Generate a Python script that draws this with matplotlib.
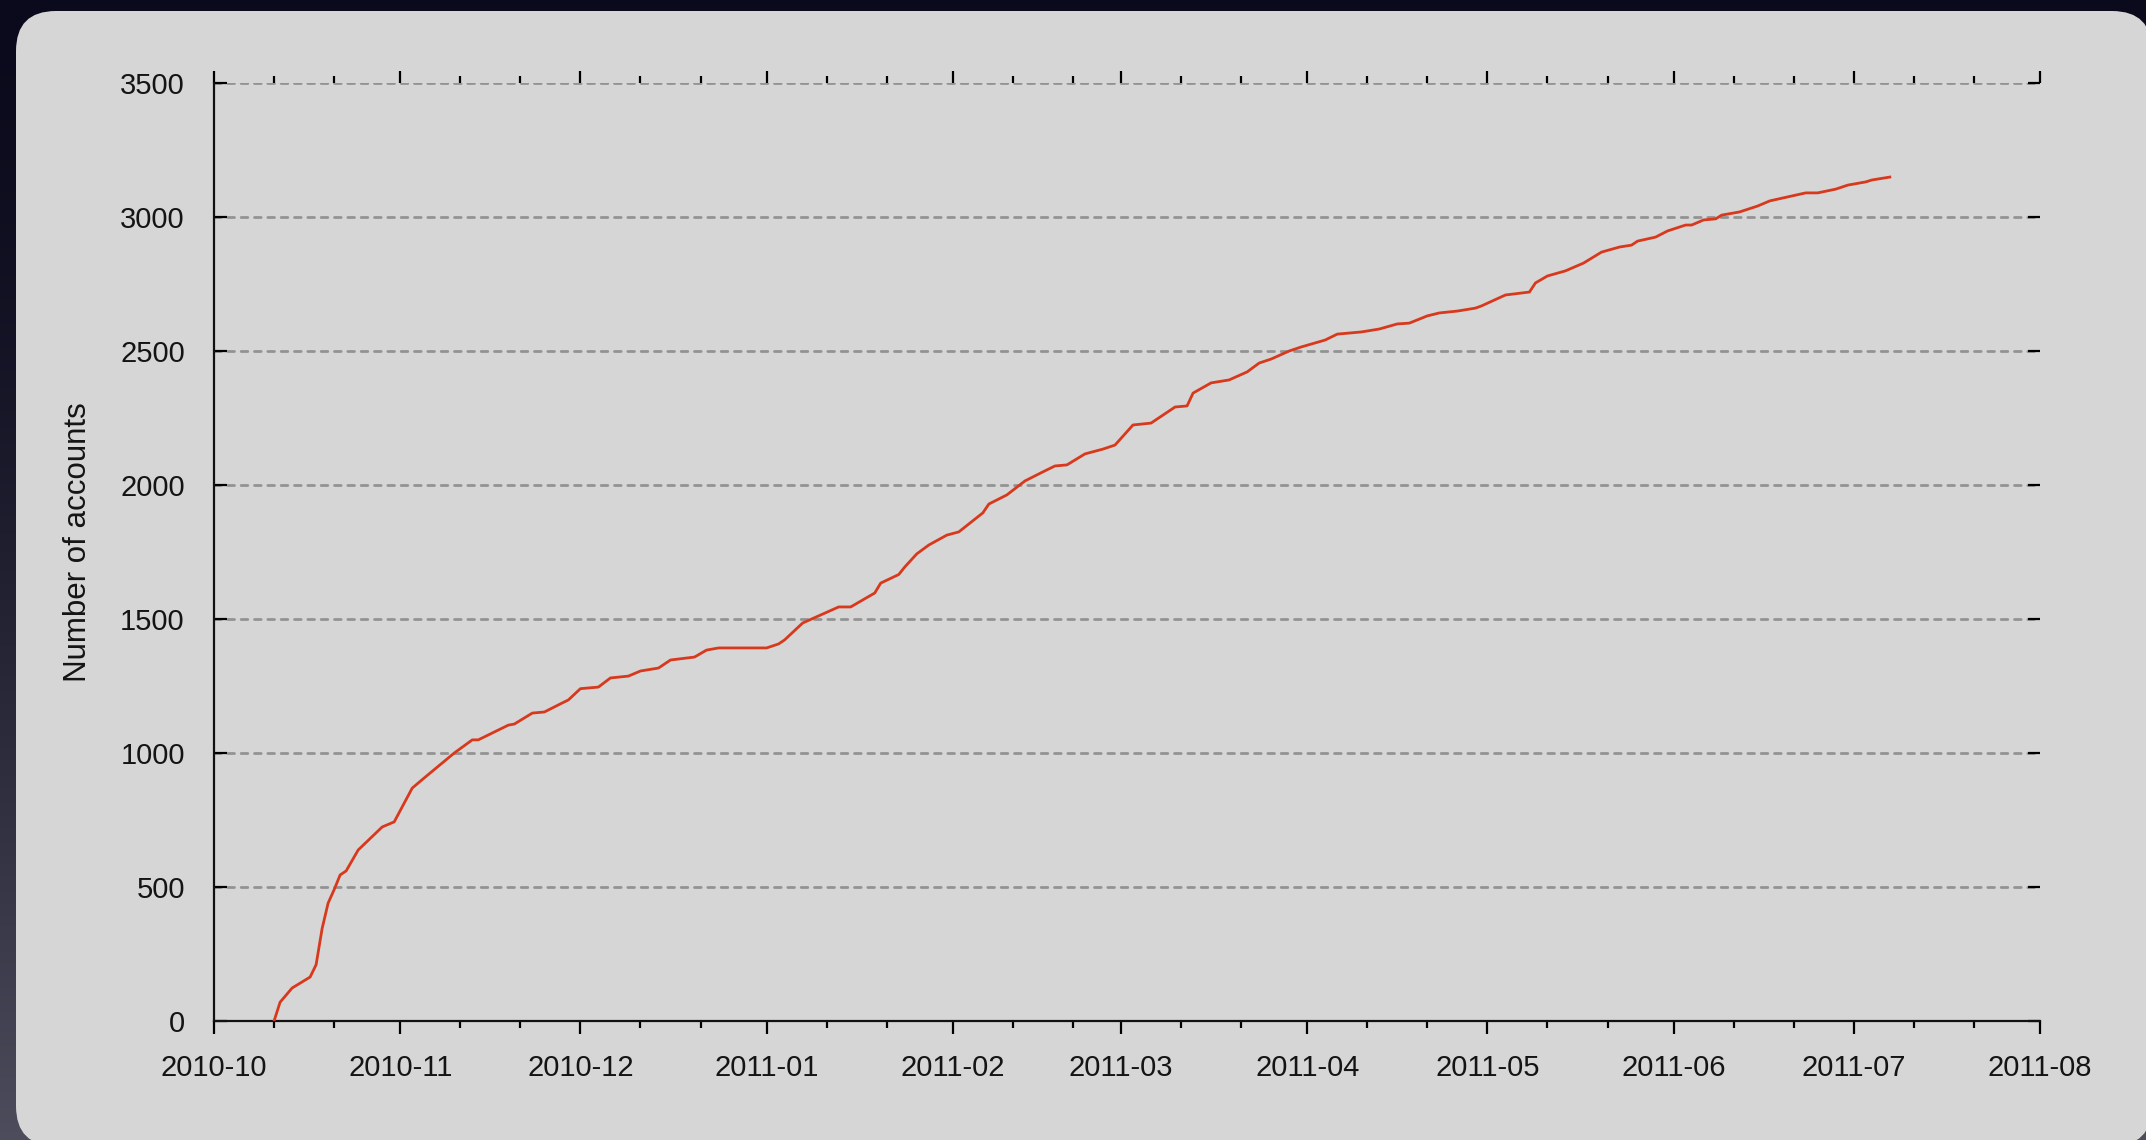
import matplotlib.pyplot as plt
import matplotlib.dates as mdates
from matplotlib.ticker import MultipleLocator
from matplotlib.patches import FancyBboxPatch
import numpy as np
import pandas as pd

plt.rcParams['font.family'] = ['Liberation Sans', 'DejaVu Sans']

# cumulative number of accounts
dates = [
    "2010-10-11", "2010-10-12", "2010-10-14", "2010-10-17", "2010-10-18",
    "2010-10-19", "2010-10-20", "2010-10-21", "2010-10-22", "2010-10-23",
    "2010-10-25", "2010-10-29", "2010-10-31", "2010-11-03", "2010-11-05",
    "2010-11-10", "2010-11-13", "2010-11-14", "2010-11-19", "2010-11-20",
    "2010-11-23", "2010-11-25", "2010-11-28", "2010-11-29", "2010-12-01",
    "2010-12-04", "2010-12-06", "2010-12-09", "2010-12-11", "2010-12-14",
    "2010-12-16", "2010-12-20", "2010-12-22", "2010-12-24", "2011-01-01",
    "2011-01-03", "2011-01-04", "2011-01-07", "2011-01-10", "2011-01-13",
    "2011-01-15", "2011-01-19", "2011-01-20", "2011-01-23", "2011-01-24",
    "2011-01-26", "2011-01-28", "2011-01-31", "2011-02-02", "2011-02-06",
    "2011-02-07", "2011-02-10", "2011-02-13", "2011-02-16", "2011-02-18",
    "2011-02-20", "2011-02-23", "2011-02-26", "2011-02-28", "2011-03-03",
    "2011-03-06", "2011-03-08", "2011-03-10", "2011-03-12", "2011-03-13",
    "2011-03-16", "2011-03-19", "2011-03-22", "2011-03-24", "2011-03-26",
    "2011-03-29", "2011-03-31", "2011-04-04", "2011-04-06", "2011-04-10",
    "2011-04-13", "2011-04-16", "2011-04-18", "2011-04-21", "2011-04-23",
    "2011-04-26", "2011-04-29", "2011-04-30", "2011-05-04", "2011-05-08",
    "2011-05-09", "2011-05-11", "2011-05-14", "2011-05-17", "2011-05-20",
    "2011-05-23", "2011-05-25", "2011-05-26", "2011-05-29", "2011-05-31",
    "2011-06-03", "2011-06-04", "2011-06-06", "2011-06-08", "2011-06-09",
    "2011-06-12", "2011-06-15", "2011-06-17", "2011-06-20", "2011-06-23",
    "2011-06-25", "2011-06-28", "2011-06-30", "2011-07-03", "2011-07-04",
    "2011-07-07",
]
accounts = [
    0, 70, 123, 164, 210,
    345, 440, 490, 545, 560,
    638, 724, 743, 869, 907,
    1000, 1049, 1049, 1104, 1108,
    1149, 1153, 1187, 1198, 1240,
    1246, 1280, 1287, 1306, 1317,
    1347, 1358, 1384, 1392, 1392,
    1407, 1422, 1485, 1515, 1545,
    1545, 1597, 1634, 1666, 1694,
    1743, 1776, 1813, 1825, 1896,
    1929, 1963, 2015, 2049, 2071,
    2075, 2116, 2134, 2149, 2224,
    2231, 2261, 2291, 2295, 2343,
    2381, 2392, 2422, 2455, 2470,
    2500, 2515, 2541, 2563, 2571,
    2582, 2601, 2604, 2631, 2642,
    2649, 2660, 2668, 2709, 2720,
    2754, 2780, 2799, 2828, 2869,
    2888, 2895, 2910, 2925, 2948,
    2970, 2970, 2989, 2993, 3007,
    3019, 3041, 3060, 3075, 3090,
    3090, 3104, 3119, 3131, 3138,
    3149,
]

W, H = 2146, 1140
fig = plt.figure(figsize=(W / 100, H / 100), dpi=100)
fig.patch.set_facecolor('#0b0c1e')

# dark backdrop + light rounded panel
bg = fig.add_axes([0, 0, 1, 1], zorder=-10)
bg.set_xlim(0, W)
bg.set_ylim(H, 0)
bg.axis('off')
t = np.linspace(0, 1, 256)[:, None]
top = np.array([0.04, 0.04, 0.11])
bot = np.array([0.30, 0.30, 0.36])
grad = (top + (bot - top) * t ** 1.6)[:, None, :] * np.ones((1, 8, 1))
bg.imshow(grad, extent=[0, W, H, 0], aspect='auto')
panel = FancyBboxPatch((16, 11), 2136, 1135,
                       boxstyle="round,pad=0,rounding_size=40",
                       facecolor='#d6d6d6', edgecolor='none')
bg.add_patch(panel)

ax = fig.add_axes([214 / W, 1 - 1021 / H, 1826 / W, 938 / H])
ax.set_facecolor('none')

ax.plot(pd.to_datetime(dates), accounts, color='#d8391c', lw=2.0, zorder=3)

ax.set_xlim(pd.Timestamp("2010-10-01"), pd.Timestamp("2011-08-01"))
ax.set_ylim(0, 3500)

ax.xaxis.set_major_locator(mdates.MonthLocator())
ax.xaxis.set_major_formatter(mdates.DateFormatter('%Y-%m'))
ax.xaxis.set_minor_locator(mdates.DayLocator(bymonthday=[11, 21]))
ax.yaxis.set_major_locator(MultipleLocator(500))

for s in ['top', 'right']:
    ax.spines[s].set_visible(False)
for s in ['left', 'bottom']:
    ax.spines[s].set_linewidth(1.6)
    ax.spines[s].set_color('#111111')

ax.tick_params(axis='x', which='major', direction='out', top=True, bottom=True,
               length=9, width=1.6, pad=15, labelsize=21, labelcolor='#141414')
ax.tick_params(axis='x', which='minor', direction='out', top=True, bottom=True,
               length=5, width=1.6)
ax.tick_params(axis='y', which='major', direction='in', left=True, right=True,
               length=9, width=1.6, pad=21, labelsize=21, labelcolor='#141414')

ax.yaxis.grid(True, color='#939393', lw=2.0, linestyle=(0, (2.4, 2.4)),
              dash_capstyle='round')
ax.set_axisbelow(True)

ax.set_ylabel('Number of accounts', fontsize=22.5, color='#141414')
ax.yaxis.set_label_coords(-0.066, 0.51)

fig.savefig('out.png', dpi=100, facecolor=fig.get_facecolor())
